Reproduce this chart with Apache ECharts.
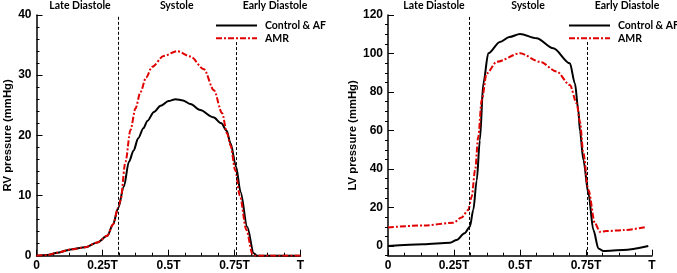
<!DOCTYPE html>
<html>
<head>
<meta charset="utf-8">
<script src="https://cdn.jsdelivr.net/npm/echarts@6/dist/echarts.min.js"></script>
<style>
  html, body { margin: 0; padding: 0; background: #fff; }
  #chart { width: 677px; height: 273px; }
</style>
</head>
<body>
<div id="chart"></div>
<script>
// cycle time as fraction of T
const xTicks = [0, 0.25, 0.5, 0.75, 1];
const xTickLabels = ['0', '0.25T', '0.5T', '0.75T', 'T'];
const phaseNames = ['Late Diastole', 'Systole', 'Early Diastole'];
const phaseBounds = [0.309, 0.756];
const seriesNames = ['Control & AF', 'AMR'];

// RV pressure (mmHg)
const rvControl = [[0,0],[0.04,0.1],[0.08,0.5],[0.13,1.05],[0.185,1.4],[0.23,2.2],[0.268,3.3],[0.29,5.2],[0.309,7.9],[0.331,11.5],[0.35,15.6],[0.368,17.5],[0.385,19.5],[0.405,21.2],[0.42,22.4],[0.445,23.9],[0.47,24.9],[0.5,25.7],[0.527,26.0],[0.555,25.8],[0.583,25.2],[0.62,24.2],[0.67,23.0],[0.7,22.0],[0.72,20.8],[0.735,18.7],[0.756,14.8],[0.773,10.6],[0.798,4.8],[0.823,0.4],[0.835,0],[1,0]];
const rvAmr = [[0,0],[0.04,0.1],[0.08,0.5],[0.13,1.05],[0.185,1.4],[0.23,2.2],[0.268,3.3],[0.29,5.2],[0.309,7.9],[0.318,9.2],[0.337,15.6],[0.356,20.9],[0.375,24.5],[0.394,27.2],[0.415,29.6],[0.438,31.4],[0.482,33.2],[0.533,34.0],[0.583,33.1],[0.634,31.0],[0.672,27.5],[0.703,23.7],[0.722,20.3],[0.735,18.3],[0.753,14.2],[0.77,10],[0.795,4.3],[0.818,0.3],[0.83,0],[1,0]];

// LV pressure (mmHg)
const lvControl = [[0,0],[0.134,0.9],[0.235,1.7],[0.26,3.1],[0.29,6.6],[0.31,10],[0.323,18.7],[0.336,34],[0.348,55],[0.361,84.5],[0.38,100.1],[0.424,106],[0.46,108.6],[0.5,110.1],[0.563,107.9],[0.626,102.7],[0.689,94.9],[0.708,84.5],[0.721,70.6],[0.727,60],[0.74,44.7],[0.759,27.4],[0.778,8.3],[0.797,-1.2],[0.816,-2.6],[0.891,-2.1],[0.986,0]];
const lvAmr = [[0,9.7],[0.134,10.7],[0.247,12.1],[0.279,14.9],[0.304,18.7],[0.317,25.6],[0.33,39.5],[0.342,56.8],[0.355,75.8],[0.374,89.7],[0.412,95.7],[0.5,100.1],[0.576,95.7],[0.639,90.6],[0.689,83.6],[0.715,74.1],[0.727,64.6],[0.74,48.2],[0.759,29.1],[0.784,11.8],[0.803,7.4],[0.828,7.8],[0.891,8.3],[0.98,10]];

const lvTicks = [0, 20, 40, 60, 80, 100, 120];
const lvMinorTicks = [];
for (let v = -5; v <= 120; v += 5) if (v % 20 !== 0) lvMinorTicks.push(v);

const chart = echarts.init(document.getElementById('chart'));

const tickFont = { color: '#000', fontSize: 12, fontWeight: 'bold', fontFamily: '"Liberation Sans", Arial, sans-serif' };
const axisLine = { show: true, onZero: false, lineStyle: { color: '#000', width: 1.5 } };

function xAxisFor(gridIndex) {
    return {
        type: 'value', gridIndex: gridIndex, min: 0, max: 1, interval: 0.25,
        axisLine: axisLine,
        axisTick: { show: true, inside: true, length: 6, lineStyle: { color: '#000', width: 1 } },
        minorTick: { show: true, splitNumber: 4, length: 3, lineStyle: { color: '#000', width: 1 } },
        splitLine: { show: false },
        axisLabel: Object.assign({}, tickFont, {
            margin: 4,
            formatter: (v) => xTickLabels[xTicks.indexOf(v)]
        })
    };
}

const yName = { color: '#000', fontSize: 11.3, fontWeight: 'bold', fontFamily: '"Liberation Sans", Arial, sans-serif' };

// dashed phase boundaries
const phaseMark = (tops, bottom) => ({
    symbol: 'none', silent: true, animation: false,
    label: { show: false },
    lineStyle: { type: [3, 2], color: '#000', width: 1 },
    data: phaseBounds.map((t, i) => [{ coord: [t, tops[i]] }, { coord: [t, bottom] }])
});

const lineBase = { type: 'line', showSymbol: false, symbol: 'none', smooth: 0.3, smoothMonotone: 'x', animation: false };
const ctrlStyle = { color: '#000', width: 2, type: 'solid' };
const amrStyle = { color: '#e00000', width: 2, type: [6, 2, 2, 2] };

function legendAt(left) {
    return {
        data: seriesNames, orient: 'vertical', left: left, top: 20, padding: 0,
        itemWidth: 41, itemHeight: 8, itemGap: 1.7,
        itemStyle: { opacity: 0 },
        textStyle: { color: '#000', fontSize: 10.5, lineHeight: 8, fontWeight: 'bold', fontFamily: 'Lato, sans-serif', padding: [0, 0, 0, 3] }
    };
}

const phaseLabels = [
    { xs: [80, 176.7, 275] },
    { xs: [434, 528, 627] }
];
const graphic = [];
phaseLabels.forEach(p => p.xs.forEach((x, i) => graphic.push({
    type: 'text', x: x, y: 5.5,
    style: { text: phaseNames[i], textAlign: 'center', textVerticalAlign: 'middle', fill: '#000', fontSize: 10.5, fontWeight: 'bold', fontFamily: 'Lato, sans-serif' }
})));

const options = {
    backgroundColor: '#fff',
    animation: false,
    grid: [
        { left: 36.5, top: 15, width: 264, height: 240.7 },
        { left: 388, top: 15, width: 264, height: 240.7 }
    ],
    legend: [legendAt(215), legendAt(568)],
    xAxis: [xAxisFor(0), xAxisFor(1)],
    yAxis: [
        {
            type: 'value', gridIndex: 0, min: 0, max: 40, interval: 10,
            name: 'RV pressure (mmHg)', nameLocation: 'middle', nameGap: 23, nameTextStyle: yName,
            axisLine: axisLine,
            axisTick: { show: true, inside: true, length: 6, lineStyle: { color: '#000', width: 1 } },
            minorTick: { show: true, splitNumber: 5, length: 3, lineStyle: { color: '#000', width: 1 } },
            splitLine: { show: false },
            axisLabel: Object.assign({}, tickFont, { margin: 5 })
        },
        {
            type: 'value', gridIndex: 1, min: -5, max: 120,
            name: 'LV pressure (mmHg)', nameLocation: 'middle', nameGap: 30, nameTextStyle: yName,
            axisLine: axisLine,
            axisTick: { show: true, inside: true, length: 6, customValues: lvTicks, lineStyle: { color: '#000', width: 1 } },
            splitLine: { show: false },
            axisLabel: Object.assign({}, tickFont, { margin: 5, customValues: lvTicks })
        },
        {
            // minor ticks only
            type: 'value', gridIndex: 1, min: -5, max: 120,
            axisLine: { show: false },
            axisTick: { show: true, inside: true, length: 3, customValues: lvMinorTicks, lineStyle: { color: '#000', width: 1 } },
            splitLine: { show: false },
            axisLabel: { show: false }
        }
    ],
    graphic: graphic,
    series: [
        Object.assign({}, lineBase, { name: seriesNames[0], xAxisIndex: 0, yAxisIndex: 0, data: rvControl, lineStyle: ctrlStyle, itemStyle: { color: '#000' }, markLine: phaseMark([39.7, 35.5], 0) }),
        Object.assign({}, lineBase, { name: seriesNames[1], xAxisIndex: 0, yAxisIndex: 0, data: rvAmr, lineStyle: amrStyle, itemStyle: { color: '#e00000' } }),
        Object.assign({}, lineBase, { name: seriesNames[0], xAxisIndex: 1, yAxisIndex: 1, data: lvControl, lineStyle: ctrlStyle, itemStyle: { color: '#000' }, markLine: phaseMark([119, 106], -5) }),
        Object.assign({}, lineBase, { name: seriesNames[1], xAxisIndex: 1, yAxisIndex: 1, data: lvAmr, lineStyle: amrStyle, itemStyle: { color: '#e00000' } })
    ]
};

chart.setOption(options);
</script>
</body>
</html>
